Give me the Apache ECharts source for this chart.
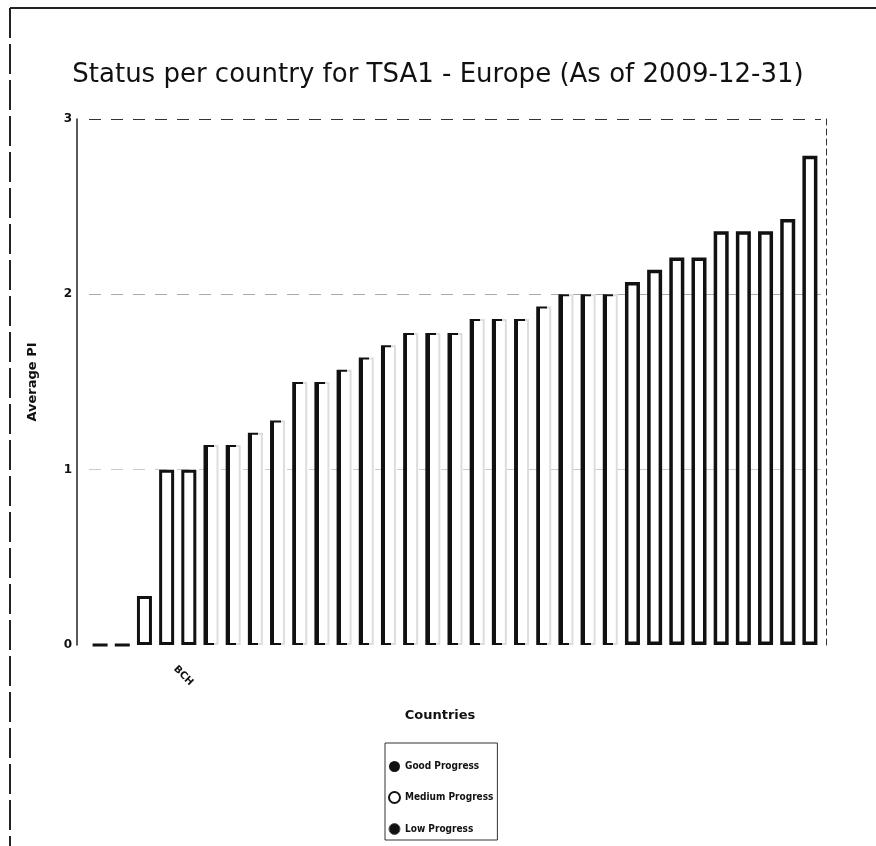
<!DOCTYPE html>
<html>
<head>
<meta charset="utf-8">
<title>Status per country for TSA1 - Europe</title>
<script src="https://cdn.jsdelivr.net/npm/echarts@6/dist/echarts.min.js"></script>
<style>
  html, body { margin: 0; padding: 0; background: #fff; }
  #chart { width: 876px; height: 846px; }
</style>
</head>
<body>
<div id="chart"></div>
<script>
// only one country code is legible in the scanned original
const countries = ['', '', '', 'BCH', '', '', '', '', '', '', '',
  '', '', '', '', '', '', '', '', '', '', '',
  '', '', '', '', '', '', '', '', '', '', '']
const averagePI = [0, 0, 0.28, 1.0, 1.0, 1.14, 1.14, 1.21, 1.28, 1.5, 1.5,
  1.57, 1.64, 1.71, 1.78, 1.78, 1.78, 1.86, 1.86, 1.86, 1.93, 2.0,
  2.0, 2.0, 2.07, 2.14, 2.21, 2.21, 2.36, 2.36, 2.36, 2.43, 2.79]
const progress = ['Low', 'Low', 'Low', 'Low', 'Low',
  'Medium', 'Medium', 'Medium', 'Medium', 'Medium', 'Medium', 'Medium', 'Medium', 'Medium', 'Medium',
  'Medium', 'Medium', 'Medium', 'Medium', 'Medium', 'Medium', 'Medium', 'Medium', 'Medium',
  'Good', 'Good', 'Good', 'Good', 'Good', 'Good', 'Good', 'Good', 'Good']
const levels = ['Good', 'Medium', 'Low']
const yTicks = { min: 0, max: 3, interval: 1 }

const font = 'DejaVu Sans'
const condensed = "'DejaVu Sans Condensed', 'DejaVu Sans'"
const ink = '#111'

function grad(stops) {
  return new echarts.graphic.LinearGradient(0, 0, 1, 0, stops)
}

const barStyles = {
  Good: { color: '#fff', borderColor: ink, borderWidth: 3.5 },
  Medium: {
    color: grad([
      { offset: 0, color: ink }, { offset: 0.28, color: ink },
      { offset: 0.28, color: '#fff' }, { offset: 1, color: '#fff' }
    ]),
    borderColor: grad([
      { offset: 0, color: ink }, { offset: 0.7, color: ink },
      { offset: 0.7, color: '#ddd' }, { offset: 1, color: '#ddd' }
    ]),
    borderWidth: 2
  },
  Low: { color: '#fff', borderColor: ink, borderWidth: 3 }
}

const legendIcons = {
  Good: { color: ink, borderWidth: 0 },
  Medium: { color: '#fff', borderColor: ink, borderWidth: 2 },
  Low: { color: ink, borderColor: '#555', borderWidth: 1 }
}

const chart = echarts.init(document.getElementById('chart'))

chart.setOption({
  animation: false,
  backgroundColor: '#fff',
  title: {
    text: 'Status per country for TSA1 - Europe (As of 2009-12-31)',
    left: 'center',
    top: 57,
    textStyle: { fontFamily: font, fontWeight: 'normal', fontSize: 26, color: ink }
  },
  graphic: [
    { type: 'line', shape: { x1: 10, y1: 8, x2: 876, y2: 8 }, style: { stroke: '#222', lineWidth: 2 } },
    { type: 'line', shape: { x1: 10, y1: 8, x2: 10, y2: 846 }, style: { stroke: '#222', lineWidth: 2, lineDash: [30, 6] } }
  ],
  legend: {
    orient: 'vertical',
    left: 385,
    top: 743,
    padding: [18, 4, 5, 3],
    itemGap: 19,
    itemWidth: 11,
    itemHeight: 11,
    borderColor: '#333',
    borderWidth: 1,
    textStyle: { fontFamily: condensed, fontWeight: 'bold', fontSize: 10, color: ink },
    data: levels.map((l) => ({ name: l + ' Progress', icon: 'circle', itemStyle: legendIcons[l] }))
  },
  grid: { left: 89, right: 55, top: 119, bottom: 201 },
  xAxis: {
    type: 'category',
    data: countries,
    axisLine: { show: false },
    axisTick: { show: false },
    axisLabel: {
      interval: 0, rotate: -45, margin: 14, padding: [0, 0, 0, 12],
      fontFamily: font, fontWeight: 'bold', fontSize: 10, color: ink
    },
    name: 'Countries',
    nameLocation: 'middle',
    nameGap: 64,
    nameTextStyle: { fontFamily: font, fontWeight: 'bold', fontSize: 13, color: ink, padding: [0, 30, 0, 0] }
  },
  yAxis: [
    {
      type: 'value',
      min: yTicks.min,
      max: yTicks.max,
      interval: yTicks.interval,
      offset: 12,
      axisLine: { show: true, lineStyle: { color: '#222', width: 1.5 } },
      axisTick: { show: false },
      axisLabel: { margin: 5, fontFamily: font, fontWeight: 'bold', fontSize: 12, color: ink },
      splitLine: { show: true, lineStyle: { color: ['transparent', '#ccc', '#aaa', '#333'], type: [12, 10] } },
      name: 'Average PI',
      nameLocation: 'middle',
      nameGap: 38,
      nameTextStyle: { fontFamily: font, fontWeight: 'bold', fontSize: 13, color: ink }
    },
    {
      type: 'value',
      position: 'right',
      min: yTicks.min,
      max: yTicks.max,
      interval: yTicks.interval,
      offset: 5,
      axisLine: { show: true, lineStyle: { color: '#333', width: 1, type: [6, 4] } },
      axisTick: { show: false },
      axisLabel: { show: false },
      splitLine: { show: false }
    }
  ],
  series: levels.map((l) => ({
    name: l + ' Progress',
    type: 'bar',
    barWidth: 15,
    barGap: '-100%',
    itemStyle: barStyles[l],
    data: averagePI.map((v, i) => (progress[i] === l ? v : '-'))
  }))
})
</script>
</body>
</html>
